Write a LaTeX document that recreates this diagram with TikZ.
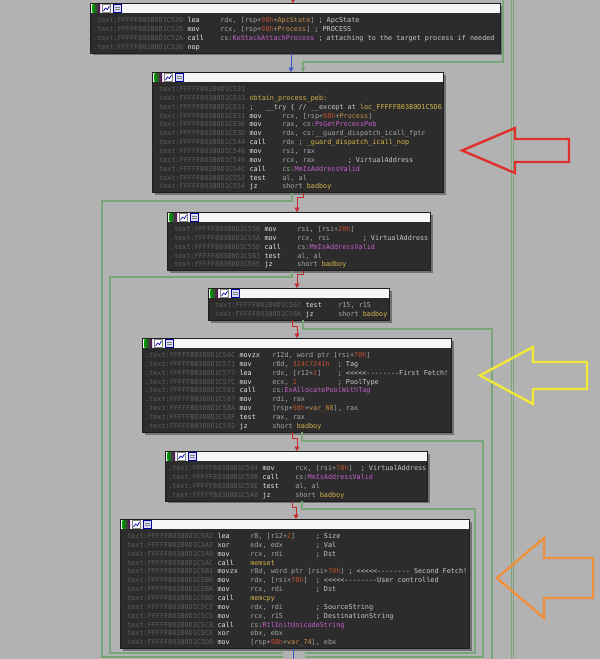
\documentclass[tikz,border=0pt]{standalone}
\usepackage{fontspec}
\setmonofont{DejaVu Sans Mono}
\usetikzlibrary{arrows.meta}

\definecolor{graybg}{HTML}{B2B2B2}
\definecolor{blkbg}{HTML}{2C2C2C}
\definecolor{blkline}{HTML}{1E1E1E}
\definecolor{shadowc}{HTML}{727272}
\definecolor{hdrc}{HTML}{F6F6F6}
\definecolor{addrc}{HTML}{5E5E5E}
\definecolor{mnemc}{HTML}{E4E4E4}
\definecolor{opndc}{HTML}{A6A6A6}
\definecolor{cmtc}{HTML}{C8C8C8}
\definecolor{hexc}{HTML}{C0502E}
\definecolor{varc}{HTML}{C98E4A}
\definecolor{impc}{HTML}{C65FCB}
\definecolor{locc}{HTML}{D6B44C}
\definecolor{edgered}{HTML}{C42A2A}
\definecolor{edgegreen}{HTML}{7AA47A}
\definecolor{edgeblue}{HTML}{3858C8}
\definecolor{arrred}{HTML}{E0302C}
\definecolor{arryel}{HTML}{F2E83A}
\definecolor{arrorg}{HTML}{F0903C}

\newcommand{\asmfont}{\ttfamily\fontsize{6.8}{8}\selectfont}
\newcommand{\hexn}[1]{\textcolor{hexc}{#1}}
\newcommand{\stkv}[1]{\textcolor{varc}{#1}}
\newcommand{\impn}[1]{\textcolor{impc}{#1}}
\newcommand{\locn}[1]{\textcolor{locc}{#1}}
\newcommand{\cmtx}[1]{\textcolor{cmtc}{#1}}

% block: name, left, top, width, rows
\newcommand{\idablock}[5]{%
  \pgfmathsetmacro{\blkh}{14.5+#5*8.85}
  \fill[shadowc] (#2+2.5,#3+2.5) rectangle ++(#4,\blkh);
  \node[blkbody, minimum width=#4pt, minimum height=\blkh pt] (#1) at (#2,#3) {};
  \fill[hdrc] ([shift={(0.5,0.5)}]#1.north west) rectangle ([shift={(-0.5,10)}]#1.north east);
  \shade[left color=green!60!black, right color=violet!80!black] ([shift={(2.5,1.5)}]#1.north west) rectangle +(7.5,7.5);
  \filldraw[fill=white, draw=gray] ([shift={(12.5,1.5)}]#1.north west) rectangle +(8,7.5);
  \draw[blue!70!black, line width=0.7pt] ([shift={(13.5,8)}]#1.north west) -- +(2,-3) -- +(4,-1.5) -- +(6,-5);
  \filldraw[fill=blue!15, draw=blue!60!black] ([shift={(23,1.5)}]#1.north west) rectangle +(8,7.5);
  \draw[gray, line width=0.5pt] ([shift={(24.5,4)}]#1.north west) -- +(5,0) ([shift={(24.5,6.5)}]#1.north west) -- +(5,0);
}
% row: block, index, address, mnemonic, operands
\newcommand{\asmrow}[5]{%
  \node[addr] (#1-#2a) at ([shift={(3,19.5+#2*8.85)}]#1.north west) {.text:FFFFF80380D1#3};
  \node[mnem] (#1-#2m) at ([shift={(97.3,19.5+#2*8.85)}]#1.north west) {#4};
  \node[opnd] (#1-#2o) at ([shift={(130.1,19.5+#2*8.85)}]#1.north west) {#5};
}

\begin{document}
\begin{tikzpicture}[x=1pt,y=-1pt,
  blkbody/.style={draw=blkline, fill=blkbg, line width=0.6pt, anchor=north west, inner sep=0pt, outer sep=0pt},
  addr/.style={anchor=base west, inner sep=0pt, font=\asmfont, text=addrc},
  mnem/.style={addr, text=mnemc},
  opnd/.style={addr, text=opndc},
  redge/.style={draw=edgered, line width=0.9pt, -{Triangle[width=5pt,length=4.5pt]}},
  bedge/.style={draw=edgeblue, line width=0.9pt},
  gedge/.style={draw=edgegreen, line width=1.1pt},
  tip/.style={-{Triangle[width=5pt,length=4.5pt]}},
  bigarrow/.style={line width=2.4pt, line join=miter}]

\useasboundingbox (0,0) rectangle (600,659);
\fill[graybg] (0,0) rectangle (600,659);

%Shape: Blocks
\idablock{b1}{90}{3}{410}{4}
\idablock{b2}{152}{72}{291}{12}
\idablock{b3}{167}{212}{263}{5}
\idablock{b4}{208}{288}{181}{2}
\idablock{b5}{142}{338}{309}{9}
\idablock{b6}{165}{451}{262}{4}
\idablock{b7}{120}{519}{349}{13}

% Text Node
\asmrow{b1}{0}{C520}{lea}{rdx, [rsp+\hexn{98h}+\stkv{ApcState}] \cmtx{; ApcState}}
\asmrow{b1}{1}{C525}{mov}{rcx, [rsp+\hexn{98h}+\stkv{Process}] \cmtx{; PROCESS}}
\asmrow{b1}{2}{C52A}{call}{cs:\impn{KeStackAttachProcess} \cmtx{; attaching to the target process if needed}}
\asmrow{b1}{3}{C530}{nop}{}
% Text Node
\asmrow{b2}{0}{C531}{}{}
\asmrow{b2}{1}{C531}{\locn{obtain\_process\_peb:}}{}
\asmrow{b2}{2}{C531}{\cmtx{;~~~\_\_try \{ // \_\_except at }\locn{loc\_FFFFF80380D1C5D6}}{}
\asmrow{b2}{3}{C531}{mov}{rcx, [rsp+\hexn{98h}+\stkv{Process}]}
\asmrow{b2}{4}{C536}{mov}{rax, cs:\impn{PsGetProcessPeb}}
\asmrow{b2}{5}{C53D}{mov}{rdx, cs:\_\_guard\_dispatch\_icall\_fptr}
\asmrow{b2}{6}{C544}{call}{rdx \cmtx{;} \locn{\_guard\_dispatch\_icall\_nop}}
\asmrow{b2}{7}{C546}{mov}{rsi, rax}
\asmrow{b2}{8}{C549}{mov}{rcx, rax~~~~~~~~\cmtx{; VirtualAddress}}
\asmrow{b2}{9}{C54C}{call}{cs:\impn{MmIsAddressValid}}
\asmrow{b2}{10}{C552}{test}{al, al}
\asmrow{b2}{11}{C554}{jz}{short \locn{badboy}}
% Text Node
\asmrow{b3}{0}{C556}{mov}{rsi, [rsi+\hexn{20h}]}
\asmrow{b3}{1}{C55A}{mov}{rcx, rsi~~~~~~~~\cmtx{; VirtualAddress}}
\asmrow{b3}{2}{C55D}{call}{cs:\impn{MmIsAddressValid}}
\asmrow{b3}{3}{C563}{test}{al, al}
\asmrow{b3}{4}{C565}{jz}{short \locn{badboy}}
% Text Node
\asmrow{b4}{0}{C567}{test}{r15, r15}
\asmrow{b4}{1}{C56A}{jz}{short \locn{badboy}}
% Text Node
\asmrow{b5}{0}{C56C}{movzx}{r12d, word ptr [rsi+\hexn{70h}]}
\asmrow{b5}{1}{C571}{mov}{r8d, \hexn{324C7241h}~~\cmtx{; Tag}}
\asmrow{b5}{2}{C577}{lea}{rdx, [r12+\hexn{2}]~~~~\cmtx{; <<<<<--------First Fetch!}}
\asmrow{b5}{3}{C57C}{mov}{ecx, \hexn{1}~~~~~~~~~~\cmtx{; PoolType}}
\asmrow{b5}{4}{C581}{call}{cs:\impn{ExAllocatePoolWithTag}}
\asmrow{b5}{5}{C587}{mov}{rdi, rax}
\asmrow{b5}{6}{C58A}{mov}{[rsp+\hexn{98h}+\stkv{var\_68}], rax}
\asmrow{b5}{7}{C58F}{test}{rax, rax}
\asmrow{b5}{8}{C592}{jz}{short \locn{badboy}}
% Text Node
\asmrow{b6}{0}{C594}{mov}{rcx, [rsi+\hexn{78h}]~~\cmtx{; VirtualAddress}}
\asmrow{b6}{1}{C598}{call}{cs:\impn{MmIsAddressValid}}
\asmrow{b6}{2}{C59E}{test}{al, al}
\asmrow{b6}{3}{C5A0}{jz}{short \locn{badboy}}
% Text Node
\asmrow{b7}{0}{C5A2}{lea}{r8, [r12+\hexn{2}]~~~~~\cmtx{; Size}}
\asmrow{b7}{1}{C5A7}{xor}{edx, edx~~~~~~~~\cmtx{; Val}}
\asmrow{b7}{2}{C5A9}{mov}{rcx, rdi~~~~~~~~\cmtx{; Dst}}
\asmrow{b7}{3}{C5AC}{call}{\locn{memset}}
\asmrow{b7}{4}{C5B1}{movzx}{r8d, word ptr [rsi+\hexn{70h}] \cmtx{; <<<<<-------- Second Fetch!}}
\asmrow{b7}{5}{C5B6}{mov}{rdx, [rsi+\hexn{78h}]~~\cmtx{; <<<<<--------User controlled}}
\asmrow{b7}{6}{C5BA}{mov}{rcx, rdi~~~~~~~~\cmtx{; Dst}}
\asmrow{b7}{7}{C5BD}{call}{\locn{memcpy}}
\asmrow{b7}{8}{C5C2}{mov}{rdx, rdi~~~~~~~~\cmtx{; SourceString}}
\asmrow{b7}{9}{C5C5}{mov}{rcx, r15~~~~~~~~\cmtx{; DestinationString}}
\asmrow{b7}{10}{C5C8}{call}{cs:\impn{RtlInitUnicodeString}}
\asmrow{b7}{11}{C5CE}{xor}{ebx, ebx}
\asmrow{b7}{12}{C5D0}{mov}{[rsp+\hexn{98h}+\stkv{var\_74}], ebx}

% free ends
\coordinate (topin) at (293,-3);
\coordinate (topright) at (503,-3);
\coordinate (exitL2) at (283,657);
\coordinate (exitL3) at (283,653);
\coordinate (exitR4) at (492,662);
\coordinate (exitR5) at (305,657);
\coordinate (exitR6) at (305,653);
\coordinate (exitB7) at (293,662);
\coordinate (passT) at (512.7,-3);
\coordinate (passB) at (512.7,662);

%Straight Lines
\draw[gedge, line width=0.9pt, double=graybg, double distance=1.5pt] (passT) -- (passB);
\draw[redge] (topin) -- (293,0 |- b1.north);
\draw[bedge, tip] (291,0 |- b1.south) -- (291,0 |- b2.north);
\draw[gedge, tip] (topright) -- (503,62) -- (303,62) -- (303,0 |- b2.north);
\draw[redge] (303,0 |- b2.south) -- (303,197) -- (297,197) -- (297,0 |- b3.north);
\draw[gedge] (292,0 |- b2.south) -- (292,201) -- (102,201) -- (102,657) -- (exitL2);
\draw[redge] (303,0 |- b3.south) -- (303,274) -- (297,274) -- (297,0 |- b4.north);
\draw[gedge] (292,0 |- b3.south) -- (292,277) -- (110,277) -- (110,653) -- (exitL3);
\draw[redge] (292,0 |- b4.south) -- (292,326) -- (297,326) -- (297,0 |- b5.north);
\draw[gedge] (303,0 |- b4.south) -- (303,329) -- (492,329) -- (exitR4);
\draw[redge] (292,0 |- b5.south) -- (292,438) -- (297,438) -- (297,0 |- b6.north);
\draw[gedge] (302,0 |- b5.south) -- (302,441) -- (483,441) -- (483,657) -- (exitR5);
\draw[redge] (292,0 |- b6.south) -- (292,507) -- (296,507) -- (296,0 |- b7.north);
\draw[gedge] (302,0 |- b6.south) -- (302,509) -- (475,509) -- (475,653) -- (exitR6);
\draw[bedge] (293,0 |- b7.south) -- (exitB7);

%Shape: Arrows
\draw[bigarrow, draw=arrred] (462,150.5) -- (515,128) -- (515,139) -- (569,139) -- (569,162) -- (515,162) -- (515,173) -- cycle;
\draw[bigarrow, draw=arryel] (480,375.5) -- (533,347) -- (533,362) -- (587,362) -- (587,389) -- (533,389) -- (533,404) -- cycle;
\draw[bigarrow, draw=arrorg] (497,578) -- (544,538) -- (544,558) -- (593,558) -- (593,598) -- (544,598) -- (544,618) -- cycle;

\end{tikzpicture}
\end{document}
